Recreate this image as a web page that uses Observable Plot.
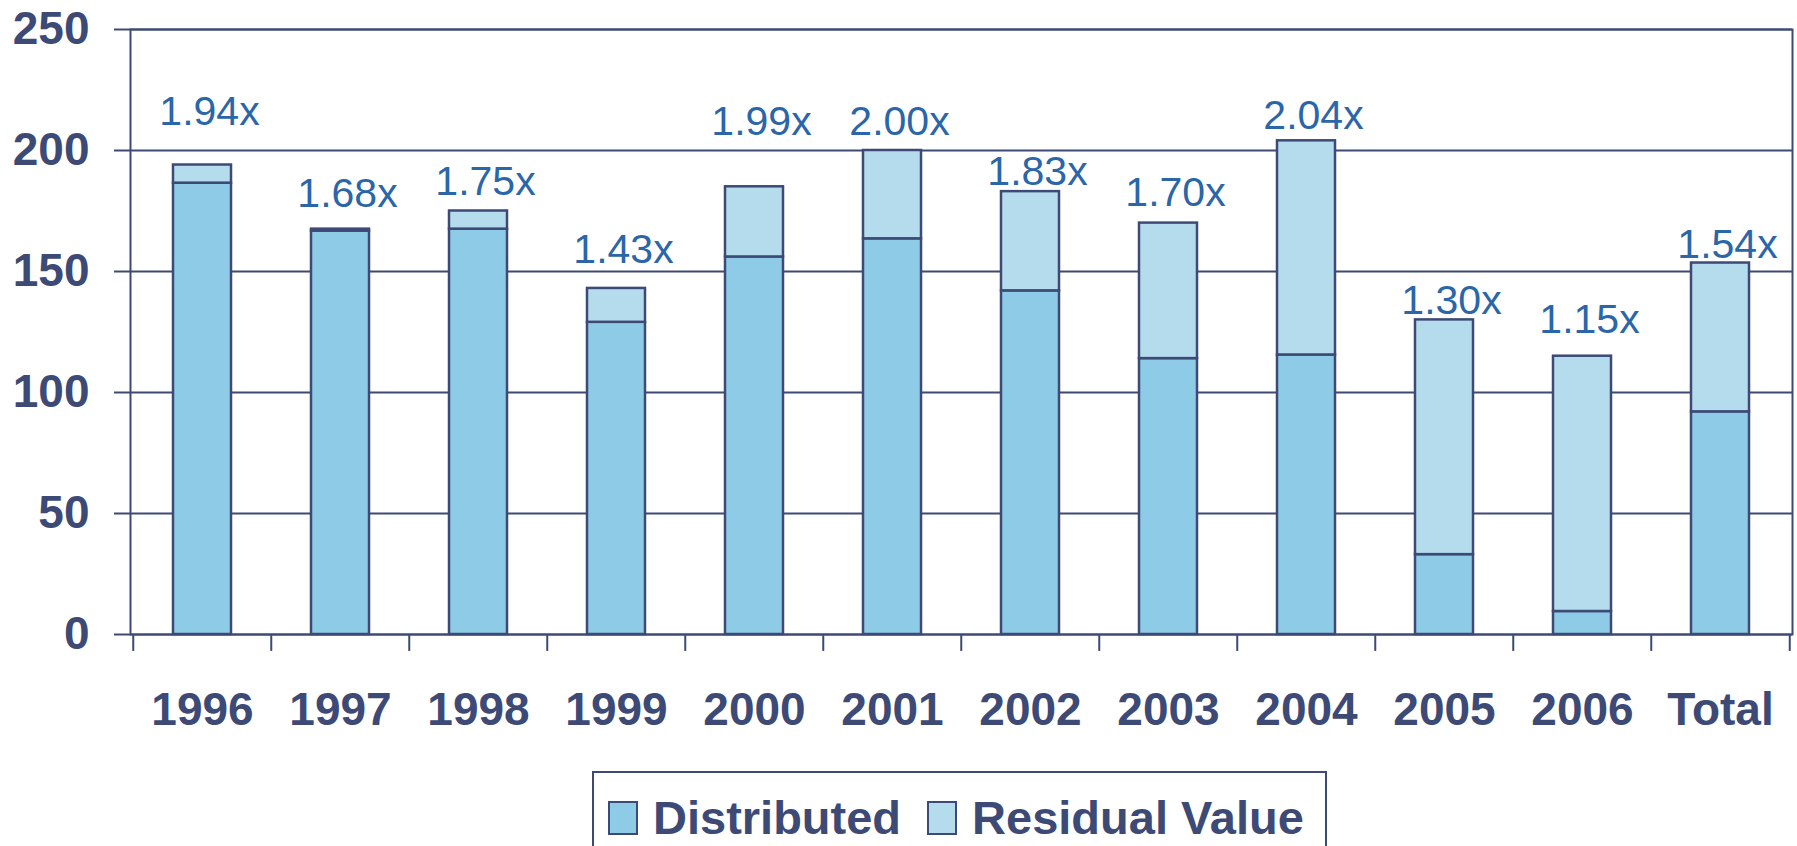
<!DOCTYPE html>
<html>
<head>
<meta charset="utf-8">
<script src="https://cdn.jsdelivr.net/npm/d3@7"></script>
<script src="https://cdn.jsdelivr.net/npm/@observablehq/plot@0.6"></script>
<style>
  html, body { margin: 0; padding: 0; background: #fff; }
  body { width: 1797px; height: 846px; position: relative; overflow: hidden; font-family: "Liberation Sans", Arial, sans-serif; }
  #chart svg { display: block; }
  #legend {
    position: absolute; left: 592px; top: 771px; width: 731px; height: 100px;
    border: 2px solid #3c4a75; box-sizing: content-box; background: #fff;
    display: flex; align-items: flex-start; padding-top: 0;
  }
  .item { display: flex; align-items: center; margin-top: 22px; }
  .sw { width: 26px; height: 30px; border: 2px solid #3c4a75; margin-right: 15px; }
  .lab { font-weight: bold; font-size: 47px; color: #3c4a75; line-height: 46px; }
</style>
</head>
<body>
<div id="chart"></div>
<div id="legend"></div>
<script>
const categories = ["1996", "1997", "1998", "1999", "2000", "2001", "2002", "2003", "2004", "2005", "2006", "Total"];
const distributed = [186.5, 166.7, 167.5, 129, 156, 163.5, 142, 114, 115.5, 33, 9.5, 92];
const residual = [7.5, 0.8, 7.5, 14, 29, 36.5, 41, 56, 88.5, 97, 105.5, 61.5];
const multiples = ["1.94x", "1.68x", "1.75x", "1.43x", "1.99x", "2.00x", "1.83x", "1.70x", "2.04x", "1.30x", "1.15x", "1.54x"];
const labelAt = [216, 182, 187, 159, 212, 212, 191, 182.5, 214.5, 138, 130, 161];
const yTicks = [0, 50, 100, 150, 200, 250];
const seriesNames = ["Distributed", "Residual Value"];
const seriesColors = ["#8ecbe6", "#b4dced"];

const navy = "#3c4a75";
const W = 1797, H = 760, mL = 130, mR = 5, mT = 29, mB = 126;
const step = (W - mL - mR) / categories.length;

const rows = categories.flatMap((c, i) => [
  {cat: c, series: seriesNames[0], value: distributed[i]},
  {cat: c, series: seriesNames[1], value: residual[i]}
]);
const labels = categories.map((c, i) => ({cat: c, y: labelAt[i], text: multiples[i]}));

const chart = Plot.plot({
  width: W, height: H,
  marginLeft: mL, marginRight: mR, marginTop: mT, marginBottom: mB,
  style: {fontFamily: '"Liberation Sans", Arial, sans-serif', background: "#fff"},
  x: {domain: categories, paddingInner: 0.58, paddingOuter: 0.29, label: null},
  y: {domain: [0, 250], label: null},
  color: {domain: seriesNames, range: seriesColors},
  marks: [
    Plot.gridY(yTicks, {stroke: navy, strokeOpacity: 1, strokeWidth: 2}),
    Plot.axisY(yTicks, {tickSize: 16, tickPadding: 25, stroke: navy, strokeWidth: 2, fill: navy, fontSize: 46, fontWeight: "bold", label: null}),
    Plot.axisX({tickSize: 0, tickPadding: 58, fill: navy, fontSize: 46, fontWeight: "bold", label: null}),
    Plot.barY(rows, {x: "cat", y: "value", fill: "series", stroke: navy, strokeWidth: 2.5, order: null}),
    Plot.ruleX(categories, {x: d => d, dx: -step / 2, y1: 0, y2: -7, stroke: navy, strokeWidth: 2}),
    Plot.ruleX(categories.slice(-1), {x: d => d, dx: step / 2, y1: 0, y2: -7, stroke: navy, strokeWidth: 2}),
    Plot.frame({stroke: navy, strokeWidth: 2}),
    Plot.text(labels, {x: "cat", y: "y", text: "text", dx: 7, fill: "#2a66a8", fontSize: 41, fontWeight: "normal"})
  ]
});
document.getElementById("chart").appendChild(chart);

const legend = document.getElementById("legend");
seriesNames.forEach((name, i) => {
  const item = document.createElement("div");
  item.className = "item";
  item.style.marginLeft = i === 0 ? "14px" : "26px";
  const sw = document.createElement("div");
  sw.className = "sw";
  sw.style.background = seriesColors[i];
  const lab = document.createElement("span");
  lab.className = "lab";
  lab.textContent = name;
  item.appendChild(sw);
  item.appendChild(lab);
  legend.appendChild(item);
});
</script>
</body>
</html>
